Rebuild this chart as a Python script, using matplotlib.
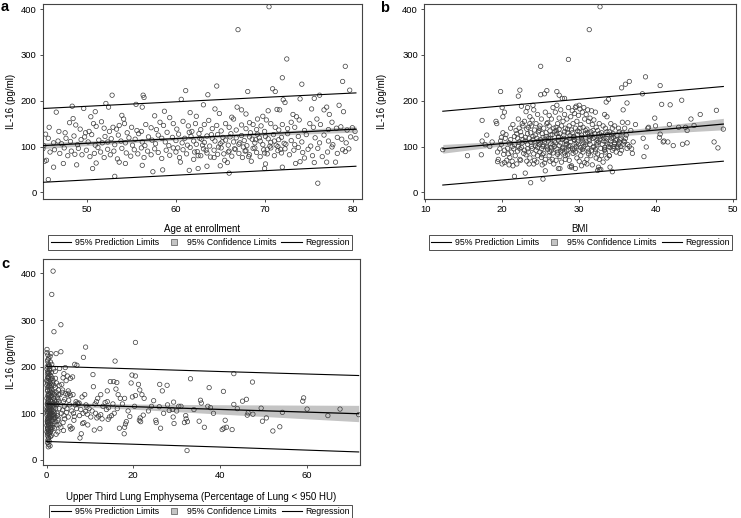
import numpy as np
import matplotlib
matplotlib.use('Agg')
import matplotlib.pyplot as plt
from matplotlib.lines import Line2D

plt.rcParams['font.family'] = ['Liberation Sans', 'DejaVu Sans']

# ---- panel a: IL-16 vs age ----
age = [46.5, 48.3, 49.6, 50.4, 50.9, 52.1, 52.4, 52.8, 53.9, 54.1,
       55.5, 56.3, 56.4, 56.2, 57.6, 58.7, 59.3, 60.6, 61.1, 61.6,
       62.3, 63.1, 63.6, 64.6, 64.4, 64.9, 66.3, 66.9, 67.4, 67.9,
       68.1, 69.2, 69.8, 70.4, 70.9, 71.2, 71.4, 71.7, 72.1, 72.3,
       72.5, 72.0, 73.2, 73.6, 74.0, 74.2, 75.3, 75.6, 75.9, 76.2,
       76.7, 77.0, 77.3, 78.4, 78.8, 78.9, 79.1, 79.6, 67.0, 70.5,
       45.3, 45.7, 46.8, 47.5, 48.0, 48.4, 48.7, 49.2, 49.8, 50.2,
       50.7, 51.0, 51.6, 51.9, 52.5, 52.9, 53.3, 53.6, 54.2, 54.5,
       55.0, 55.6, 56.1, 56.6, 57.2, 57.8, 58.2, 58.6, 59.0, 59.7,
       60.1, 60.8, 61.4, 61.8, 62.2, 62.8, 63.2, 63.7, 64.1, 64.6,
       65.1, 65.6, 66.0, 66.5, 66.8, 67.4, 67.9, 68.3, 68.7, 69.1,
       69.6, 70.0, 70.2, 70.7, 71.2, 71.6, 72.0, 72.6, 73.0, 73.4,
       73.9, 74.5, 75.1, 75.5, 76.3, 77.2, 77.6, 78.1, 78.6, 79.3,
       79.9, 80.2,
       45.1, 45.6, 46.2, 46.7, 47.1, 47.6, 48.1, 48.5, 48.9, 49.3,
       49.7, 50.1, 50.5, 50.9, 51.3, 51.7, 52.0, 52.3, 52.7, 53.1,
       53.5, 53.8, 54.3, 54.7, 55.1, 55.4, 55.8, 56.2, 56.5, 56.9,
       57.3, 57.7, 58.0, 58.4, 58.8, 59.2, 59.6, 60.0, 60.3, 60.7,
       61.0, 61.3, 61.7, 62.0, 62.3, 62.6, 62.9, 63.2, 63.5, 63.8,
       64.1, 64.4, 64.7, 65.0, 65.3, 65.6, 65.9, 66.2, 66.5, 66.8,
       67.1, 67.4, 67.7, 68.0, 68.3, 68.6, 68.9, 69.2, 69.5, 69.8,
       70.1, 70.4, 70.7, 71.0, 71.3, 71.6, 71.9, 72.2, 72.6, 73.0,
       73.4, 73.8, 74.2, 74.7, 75.2, 75.7, 76.2, 76.7, 77.2, 77.7,
       78.2, 78.7, 79.2, 79.7, 80.3,
       60.2, 61.5, 62.1, 62.7, 63.4, 64.0, 64.8, 65.4, 66.1, 66.6,
       67.2, 67.8, 68.4, 68.9, 69.4, 70.0, 70.6, 71.1, 71.8, 72.4,
       62.5, 63.0, 64.3, 65.2, 66.0, 67.6, 68.2, 69.0, 70.3, 71.5,
       45.0, 45.4, 45.2, 45.8, 46.3, 46.9, 47.4, 47.8, 48.2, 48.6,
       49.0, 49.4, 49.9, 50.3, 50.8, 51.2, 51.5, 51.9, 52.3, 52.6,
       53.0, 53.4, 53.9, 54.4, 54.9, 55.3, 55.7, 56.1, 56.4, 56.8,
       57.2, 57.6, 58.0, 58.4, 58.9, 59.3, 59.7, 60.0, 60.4, 60.8,
       61.2, 61.6, 62.0, 62.4, 62.8, 63.1, 63.5, 63.9, 64.3, 64.7,
       65.1, 65.5, 65.9, 66.3, 66.7, 67.1, 67.5, 67.9, 68.3, 68.7,
       69.1, 69.5, 69.9, 70.3, 70.7, 71.1, 71.5, 71.9, 72.3, 72.8,
       73.3, 73.8, 74.3, 74.9, 75.4, 76.0, 76.5, 77.1, 77.6, 78.2,
       78.8, 79.1, 79.5,
       45.6, 46.2, 47.3, 48.8, 50.6, 51.0, 53.1, 53.6, 54.3, 56.2,
       57.4, 58.5, 60.5, 61.5, 62.5, 63.5, 65.0, 66.0, 65.8, 68.5,
       70.0, 70.1, 72.0, 73.5, 74.0, 74.5, 75.6, 76.0, 77.0, 78.0]
il16_a = [175, 188, 183, 165, 176, 194, 186, 212, 168, 160,
          192, 212, 207, 186, 167, 177, 163, 203, 222, 174,
          166, 191, 213, 232, 182, 172, 164, 186, 180, 171,
          220, 160, 166, 178, 226, 220, 181, 180, 202, 196,
          291, 250, 170, 165, 204, 236, 182, 205, 160, 212,
          180, 186, 170, 190, 242, 176, 275, 223, 355, 405,
          127, 142, 133, 130, 152, 161, 147, 138, 130, 133,
          150, 144, 154, 140, 133, 142, 138, 146, 150, 130,
          142, 135, 133, 148, 141, 137, 153, 146, 131, 150,
          138, 155, 145, 133, 150, 137, 148, 157, 139, 146,
          134, 150, 142, 160, 136, 147, 139, 152, 148, 137,
          145, 133, 158, 150, 142, 136, 148, 139, 153, 142,
          158, 135, 150, 142, 148, 137, 153, 140, 143, 136,
          141, 133,
          102, 118, 108, 112, 106, 118, 111, 123, 104, 115,
          121, 110, 126, 103, 114, 108, 122, 110, 117, 104,
          125, 112, 108, 119, 103, 116, 128, 110, 102, 121,
          114, 106, 125, 118, 110, 102, 120, 113, 127, 108,
          118, 103, 122, 112, 105, 128, 116, 109, 123, 101,
          118, 112, 126, 106, 120, 114, 103, 128, 110, 119,
          105, 124, 113, 102, 121, 116, 108, 127, 112, 104,
          122, 117, 109, 126, 103, 115, 120, 107, 128, 113,
          104, 122, 110, 126, 101, 119, 108, 125, 112, 104,
          120, 116, 108, 121, 118,
          97, 131, 88, 118, 92, 126, 99, 84, 121, 95,
          108, 90, 130, 97, 119, 86, 101, 112, 94, 105,
          80, 103, 76, 110, 90, 99, 78, 115, 94, 100,
          95, 70, 68, 88, 93, 85, 97, 80, 90, 83,
          96, 82, 92, 78, 85, 98, 88, 76, 94, 82,
          90, 73, 96, 86, 79, 93, 84, 97, 76, 90,
          82, 95, 87, 74, 92, 81, 97, 88, 76, 93,
          84, 98, 72, 89, 80, 95, 86, 77, 92, 83,
          97, 70, 88, 79, 94, 85, 76, 91, 82, 96,
          87, 78, 93, 84, 97, 80, 91, 86, 95, 82,
          92, 98, 87, 94, 80, 96, 78, 88, 99, 85,
          93, 89, 95,
          28, 55, 63, 60, 52, 64, 35, 66, 63, 59,
          45, 49, 66, 48, 52, 57, 58, 42, 65, 68,
          52, 62, 55, 63, 67, 75, 65, 20, 66, 66]

# fitted lines
fit_x_a = [45, 53.75, 62.5, 71.25, 80.3]
reg_a = [102, 111, 120, 129, 138]
ci_lo_a = [95.5, 107, 117, 125, 131.5]
ci_hi_a = [108.5, 115, 123, 133, 144.5]
pred_lo_a = [22, 31, 40, 48.5, 57]
pred_hi_a = [183, 191.5, 200, 208.5, 217]

# ---- panel b: IL-16 vs BMI ----
bmi = [12.3, 15.5, 17.3, 17.4, 17.4, 17.8, 18.0, 18.4, 18.7, 19.2,
       19.3, 19.4, 19.8, 20.0, 20.3, 20.1, 21.6, 22.3, 22.1, 22.5,
       23.3, 23.0, 23.7, 24.0, 25.0, 25.0, 25.5, 25.8, 25.3, 25.6,
       27.1, 27.4, 27.8, 28.1, 28.6, 31.3, 32.7, 30.0, 29.5, 33.5,
       33.8, 35.5, 36.0, 36.5, 36.2, 35.7, 38.2, 38.6, 40.5, 40.7,
       41.8, 43.3, 44.5, 45.7, 47.8, 47.5, 48.0, 48.7, 44.0, 43.4,
       42.2, 41.5, 41.0, 40.9, 40.5, 40.4, 39.8, 39.9, 39.0, 38.9,
       38.3, 38.4, 38.7, 41.7, 42.9, 43.8, 44.0, 44.9, 37.3, 37.0,
       36.5, 36.8, 36.9, 36.7, 36.3, 35.6, 35.9, 35.3, 34.9, 34.6,
       34.3, 34.0, 33.9, 33.3, 32.6, 32.4, 31.0, 30.3, 27.3, 28.8,
       19.4, 19.7, 19.5, 19.9,
       20.1, 19.9, 20.2, 20.0, 20.3, 19.8,
       20.6, 20.4, 20.7, 20.5, 20.8, 20.3,
       21.1, 20.9, 21.2, 21.0, 21.3, 20.9, 21.1,
       21.4, 21.6, 21.5, 21.7, 21.3, 21.6, 21.8, 21.4,
       22.1, 21.9, 22.2, 22.0, 22.3, 21.9, 22.1, 22.2, 22.0,
       22.6, 22.4, 22.7, 22.5, 22.8, 22.4, 22.6, 22.5, 22.7, 22.3,
       23.1, 22.9, 23.2, 23.0, 23.3, 22.9, 23.1, 23.2, 23.0, 23.3,
       23.6, 23.4, 23.7, 23.5, 23.8, 23.4, 23.6, 23.5, 23.7, 23.3, 23.6,
       24.1, 23.9, 24.2, 24.0, 24.3, 23.9, 24.1, 24.2, 24.0, 24.3, 23.8, 24.1,
       24.6, 24.4, 24.7, 24.5, 24.8, 24.4, 24.6, 24.5, 24.7, 24.3, 24.6, 24.8,
       25.1, 24.9, 25.2, 25.0, 25.3, 24.9, 25.1, 25.2, 25.0, 25.3, 24.8, 25.1, 25.2,
       25.6, 25.4, 25.7, 25.5, 25.8, 25.4, 25.6, 25.5, 25.7, 25.3, 25.6, 25.8,
       26.1, 25.9, 26.2, 26.0, 26.3, 25.9, 26.1, 26.2, 26.0, 26.3, 25.8, 26.1, 26.2,
       26.6, 26.4, 26.7, 26.5, 26.8, 26.4, 26.6, 26.5, 26.7, 26.3, 26.6, 26.8, 26.4,
       27.1, 26.9, 27.2, 27.0, 27.3, 26.9, 27.1, 27.2, 27.0, 27.3, 26.8, 27.1, 27.2, 27.0,
       27.6, 27.4, 27.7, 27.5, 27.8, 27.4, 27.6, 27.5, 27.7, 27.3, 27.6, 27.8, 27.4, 27.5,
       28.1, 27.9, 28.2, 28.0, 28.3, 27.9, 28.1, 28.2, 28.0, 28.3, 27.8, 28.1, 28.2,
       28.6, 28.4, 28.7, 28.5, 28.8, 28.4, 28.6, 28.5, 28.7, 28.3, 28.6, 28.8, 28.4, 28.5,
       29.1, 28.9, 29.2, 29.0, 29.3, 28.9, 29.1, 29.2, 29.0, 29.3, 28.8, 29.1, 29.2, 29.0,
       29.6, 29.4, 29.7, 29.5, 29.8, 29.4, 29.6, 29.5, 29.7, 29.3, 29.6, 29.8, 29.4, 29.5,
       30.1, 29.9, 30.2, 30.0, 30.3, 29.9, 30.1, 30.2, 30.0, 30.3, 29.8, 30.1, 30.2,
       30.6, 30.4, 30.7, 30.5, 30.8, 30.4, 30.6, 30.5, 30.7, 30.3, 30.6, 30.8, 30.4,
       31.1, 30.9, 31.2, 31.0, 31.3, 30.9, 31.1, 31.2, 31.0, 31.3, 30.8, 31.1, 31.2,
       31.6, 31.4, 31.7, 31.5, 31.8, 31.4, 31.6, 31.5, 31.7, 31.3, 31.6, 31.8,
       32.1, 31.9, 32.2, 32.0, 32.3, 31.9, 32.1, 32.2, 32.0, 32.3, 31.8, 32.1,
       32.6, 32.4, 32.7, 32.5, 32.8, 32.4, 32.6, 32.5, 32.7, 32.3, 32.6,
       33.1, 32.9, 33.2, 33.0, 33.3, 32.9, 33.1, 33.2, 33.0, 33.3, 32.8,
       33.6, 33.4, 33.7, 33.5, 33.8, 33.4, 33.6, 33.5, 33.7, 33.3, 33.6,
       34.1, 33.9, 34.2, 34.0, 34.3, 33.9, 34.1, 34.2, 34.0, 34.3,
       34.6, 34.4, 34.7, 34.5, 34.8, 34.4, 34.6, 34.5,
       35.1, 34.9, 35.2, 35.0, 35.3, 34.9, 35.1, 35.2,
       35.6, 35.4, 35.7, 35.5, 35.8, 35.4,
       36.1, 35.9, 36.2, 36.0, 36.3]
il16_b = [93, 80, 82, 112, 157, 104, 125, 100, 110, 155,
          150, 67, 220, 185, 175, 165, 35, 223, 210, 188,
          185, 42, 21, 190, 275, 213, 215, 222, 29, 47,
          220, 212, 205, 205, 290, 355, 405, 190, 185, 197,
          203, 228, 236, 242, 195, 180, 215, 252, 233, 192,
          191, 201, 160, 170, 179, 110, 97, 138, 108, 105,
          102, 110, 112, 110, 127, 120, 162, 145, 142, 140,
          118, 78, 99, 148, 142, 142, 135, 146, 148, 110,
          100, 95, 85, 135, 152, 153, 140, 115, 100, 105,
          45, 55, 80, 170, 50, 48, 62, 58, 52, 56,
          88, 95, 72, 120,
          130, 105, 83, 62, 92, 112,
          70, 118, 96, 126, 84, 65,
          140, 108, 88, 76, 100, 60, 115,
          148, 122, 95, 80, 68, 104, 135, 58,
          160, 128, 110, 90, 72, 62, 100, 140, 118,
          150, 132, 115, 98, 85, 70, 108, 124, 145, 95,
          176, 155, 138, 120, 105, 92, 82, 68, 112, 128,
          165, 142, 130, 118, 100, 88, 75, 62, 110, 95, 150,
          180, 158, 136, 122, 108, 96, 84, 70, 115, 102, 145, 62,
          170, 150, 132, 118, 104, 92, 80, 66, 112, 125, 98, 140,
          160, 145, 128, 115, 100, 88, 76, 60, 108, 120, 135, 95, 82,
          175, 140, 122, 110, 97, 85, 72, 64, 130, 104, 116, 150,
          168, 152, 134, 118, 106, 94, 80, 68, 112, 125, 100, 145, 88,
          185, 160, 140, 126, 112, 98, 86, 72, 62, 118, 104, 132, 92,
          190, 175, 150, 135, 120, 108, 95, 83, 70, 114, 100, 128, 88, 142,
          180, 162, 145, 128, 115, 102, 90, 78, 66, 122, 108, 96, 138, 52,
          170, 155, 140, 125, 112, 98, 86, 72, 118, 104, 92, 132, 80,
          185, 160, 145, 130, 118, 106, 94, 82, 70, 112, 100, 124, 90, 138,
          178, 165, 150, 136, 122, 110, 96, 85, 58, 116, 102, 130, 92, 55,
          188, 172, 155, 140, 126, 114, 100, 88, 75, 120, 106, 134, 95, 52,
          182, 168, 148, 132, 118, 105, 92, 80, 68, 125, 110, 140, 98,
          185, 175, 160, 142, 128, 114, 100, 88, 65, 120, 108, 135, 94,
          180, 170, 155, 138, 122, 110, 96, 84, 72, 116, 104, 130, 90,
          178, 162, 148, 132, 118, 105, 92, 80, 60, 112, 125, 98,
          175, 158, 142, 128, 114, 100, 88, 75, 120, 108, 135, 94,
          150, 135, 122, 110, 96, 84, 72, 55, 116, 104, 128,
          145, 130, 118, 105, 92, 80, 66, 112, 124, 98, 50,
          165, 140, 126, 112, 100, 88, 75, 118, 106, 94, 132,
          150, 132, 118, 105, 92, 80, 112, 125, 98, 140,
          145, 128, 114, 100, 88, 120, 108, 96,
          140, 125, 110, 98, 85, 115, 104, 132,
          130, 118, 105, 92, 112, 100,
          125, 110, 96, 118, 104]

fit_x_b = [12.3, 20, 27.5, 38, 48.7]
reg_b = [95, 106.5, 117.5, 133, 149]
ci_lo_b = [85.5, 101.5, 114, 126.5, 136.5]
ci_hi_b = [104.5, 111.5, 121, 139.5, 161.5]
pred_lo_b = [16, 27, 38, 53, 68]
pred_hi_b = [177, 188.5, 199.5, 215, 231]

# ---- panel c: IL-16 vs upper third lung emphysema ----
emph = [10.7, 19.7, 20.5, 33.2, 43.2, 47.5, 14.7, 15.5, 16.2, 19.5,
        21.2, 26.1, 27.8, 37.5, 21.5, 16.0, 16.5, 10.8, 14.0, 22.0,
        20.5, 19.8, 24.7, 12.5, 11.8, 17.0, 18.0, 22.5, 26.7, 29.3,
        31.0, 35.5, 35.7, 37.8, 37.2, 40.8, 43.2, 45.2, 46.1, 49.5,
        59.3, 59.1, 60.1, 67.7, 64.9, 72.0, 54.4, 50.7, 49.8, 46.5,
        46.3, 47.6, 41.2, 41.5, 40.5, 40.9, 42.8, 52.2, 53.8, 36.4,
        35.2, 32.5, 32.2, 32.1, 31.8, 32.4, 30.5, 27.9, 28.3, 29.0,
        29.2, 29.4, 26.0, 25.2, 25.3, 26.3, 22.3, 21.4, 21.7, 21.6,
        20.3, 19.2, 18.4, 18.2, 17.9, 18.0, 16.8, 16.3, 15.6, 15.3,
        14.0, 14.3, 14.5, 14.2, 13.0, 12.5, 12.0, 11.6, 11.5, 11.2,
        11.0, 12.3, 13.8, 9.8, 9.3, 9.0, 9.4, 10.2, 9.5, 8.6,
        8.3, 7.7, 8.0, 7.1, 7.5, 6.9, 6.2, 5.9, 5.4, 5.6,
        8.2, 8.8, 6.0, 5.5, 4.8, 4.5, 4.0, 3.8, 3.5, 5.0,
        5.5, 4.2, 4.8, 6.8, 5.3, 4.1, 3.7, 6.4, 5.0, 4.2,
        3.8, 3.3, 2.9, 3.9, 2.6, 2.2, 20.5, 9.0, 8.5, 15.8,
        6.5, 7.0, 4.3, 3.0, 3.3, 2.2, 1.5, 3.3, 1.7, 1.2,
        3.6, 4.4, 5.2, 6.1, 7.3, 3.9, 4.7, 5.8, 6.6, 7.9,
        3.4, 4.0, 4.6, 5.1, 6.3, 7.6, 8.4, 9.1, 3.1, 3.7,
        10.5, 11.3, 12.8, 13.5, 15.0, 17.5, 18.8, 23.5, 24.2, 27.0,
        30.0, 34.0, 38.5, 44.0,
        0.1, 0.3, 0.5, 0.2, 0.8, 0.4, 0.6, 0.1, 0.9, 0.3,
        0.2, 0.7, 0.5, 1.1, 0.4, 0.3, 0.8, 1.3, 0.6, 0.2,
        0.1, 0.5, 0.9, 0.3, 1.4, 0.7, 0.2, 1.0, 0.4, 1.7,
        0.6, 0.3, 1.2, 0.8, 0.1, 1.5, 0.5, 0.9, 2.0, 0.4,
        1.1, 0.2, 0.7, 1.6, 0.3, 1.3, 0.6, 2.2, 0.1, 0.9,
        0.4, 1.8, 0.2, 0.8, 1.4, 0.5, 2.5, 0.3, 1.0, 0.7,
        0.1, 1.2, 0.6, 1.9, 0.4, 0.9, 0.2, 1.5, 2.8, 0.3,
        0.7, 1.1, 0.5, 2.1, 0.2, 0.8, 1.6, 0.4, 1.3, 0.1,
        0.6, 2.4, 0.3, 1.0, 0.9, 0.2, 1.7, 0.5, 0.4, 1.2,
        0.1, 0.7, 2.0, 0.3, 0.6, 1.4, 0.2, 0.9, 0.5, 0.4,
        0.3, 0.6, 0.2, 0.5, 0.8, 1.1, 0.4, 0.9, 1.8, 2.6,
        1.0, 1.5, 2.3, 2.7, 1.9, 2.2, 2.9, 1.6, 2.5, 2.8,
        0.15, 0.45, 0.85, 0.25, 1.05, 0.65, 1.25, 0.35, 0.75, 1.45,
        0.55, 1.35, 0.15, 0.95, 2.15, 0.45, 1.65, 0.25, 1.85, 0.85,
        0.35, 1.15, 0.65, 2.45, 0.05, 1.55, 0.75, 2.65, 0.55, 1.95,
        0.45, 0.25, 1.05, 0.85, 0.15, 1.25, 0.65, 2.35, 0.35, 1.75,
        0.95, 0.05, 1.45, 0.55, 2.75, 0.15, 1.15, 0.75, 2.05, 0.25,
        1.0, 0.3, 0.6, 2.0, 1.2, 0.1, 0.4, 1.6, 0.8, 2.9]
il16_c = [183, 182, 180, 174, 185, 167, 168, 168, 166, 165,
          162, 162, 160, 155, 150, 152, 140, 157, 148, 140,
          138, 135, 127, 140, 132, 132, 132, 132, 148, 124,
          115, 128, 122, 112, 115, 147, 119, 126, 130, 111,
          133, 126, 109, 109, 95, 97, 102, 90, 83, 101,
          96, 98, 85, 70, 65, 68, 65, 62, 71, 70,
          83, 82, 88, 95, 80, 20, 115, 118, 106, 108,
          92, 78, 114, 85, 80, 68, 96, 85, 82, 90,
          115, 93, 82, 77, 56, 70, 68, 110, 100, 120,
          125, 112, 92, 87, 115, 97, 94, 90, 125, 120,
          64, 67, 108, 110, 113, 104, 98, 92, 75, 80,
          78, 47, 56, 122, 122, 110, 100, 68, 72, 66,
          135, 140, 178, 175, 180, 170, 185, 176, 162, 148,
          138, 130, 140, 125, 118, 115, 107, 93, 92, 88,
          80, 70, 75, 63, 60, 55, 252, 242, 220, 212,
          205, 203, 198, 196, 232, 228, 405, 290, 275, 355,
          145, 142, 143, 140, 120, 125, 110, 105, 118, 108,
          100, 95, 102, 128, 85, 95, 100, 118, 140, 150,
          105, 100, 88, 123, 95, 120, 105, 105, 115, 100,
          105, 108, 100, 110,
          237, 225, 218, 212, 222, 205, 200, 195, 210, 190,
          185, 192, 180, 188, 176, 170, 182, 175, 168, 165,
          160, 158, 172, 155, 165, 150, 148, 145, 142, 160,
          140, 138, 150, 135, 132, 142, 130, 128, 155, 125,
          138, 122, 120, 132, 118, 125, 115, 145, 112, 113,
          110, 128, 108, 106, 118, 104, 135, 102, 100, 98,
          96, 108, 94, 120, 92, 90, 88, 98, 125, 86,
          84, 95, 82, 110, 80, 78, 88, 76, 82, 74,
          72, 100, 70, 75, 68, 66, 78, 64, 62, 65,
          60, 58, 90, 56, 54, 70, 52, 50, 48, 45,
          42, 40, 37, 33, 30, 52, 28, 62, 68, 85,
          180, 170, 165, 150, 140, 125, 110, 105, 95, 88,
          120, 135, 145, 150, 125, 160, 130, 175, 105, 115,
          140, 95, 100, 118, 118, 88, 112, 80, 100, 92,
          128, 102, 108, 120, 105, 92, 96, 130, 114, 82,
          76, 68, 70, 60, 83, 85, 90, 75, 58, 95,
          155, 170, 145, 185, 140, 200, 160, 195, 175, 178,
          228, 215, 202, 190, 205, 230, 188, 195, 165, 160]

fit_x_c = [0, 6, 20, 40, 72]
reg_c = [120, 118.3, 114.2, 108.3, 99]
ci_lo_c = [115, 114.3, 108.7, 98.3, 82]
ci_hi_c = [125, 122.3, 119.7, 118.3, 117]
pred_lo_c = [39.5, 37.6, 33.6, 27.6, 17]
pred_hi_c = [201, 199.3, 195.4, 189.6, 181]


def draw_panel(ax, x, y, fx, reg, lo, hi, plo, phi, xlim, ylim, xticks, xlabel):
    ax.fill_between(fx, lo, hi, color='#c4c4c4', lw=0, zorder=1)
    ax.scatter(x, y, s=10, facecolors='none', edgecolors='#3a3a3a',
               linewidths=0.5, zorder=2)
    ax.plot(fx, plo, color='black', lw=0.8, zorder=3)
    ax.plot(fx, phi, color='black', lw=0.8, zorder=3)
    ax.plot(fx, reg, color='black', lw=0.9, zorder=3)
    ax.set_xlim(*xlim)
    ax.set_ylim(*ylim)
    ax.set_xticks(xticks)
    ax.set_yticks([0, 100, 200, 300, 400])
    ax.tick_params(labelsize=6.8, length=2.5, width=0.6, pad=2, color='#333333')
    for sp in ax.spines.values():
        sp.set_color('#444444')
        sp.set_linewidth(0.8)
    ax.set_xlabel(xlabel, fontsize=7)
    ax.set_ylabel('IL-16 (pg/ml)', fontsize=7)


def add_legend(fig, ax, center):
    handles = [Line2D([], [], color='black', lw=0.8),
               Line2D([], [], marker='s', ls='none', markersize=3.8,
                      markerfacecolor='#c4c4c4', markeredgecolor='#555555',
                      markeredgewidth=0.5),
               Line2D([], [], color='black', lw=0.8)]
    labels = ['95% Prediction Limits', '95% Confidence Limits', 'Regression']
    leg = ax.legend(handles, labels, loc='center', bbox_to_anchor=center,
                    bbox_transform=fig.transFigure, ncol=3,
                    fontsize=6.3, frameon=True, fancybox=False,
                    borderpad=0.3, handlelength=2.3, handletextpad=0.4,
                    columnspacing=0.55, borderaxespad=0)
    leg.get_frame().set_edgecolor('black')
    leg.get_frame().set_linewidth(0.6)


fig = plt.figure(figsize=(7.41, 5.18), dpi=100)

ax_a = fig.add_axes([0.0576, 0.6158, 0.4305, 0.3774])
draw_panel(ax_a, age, il16_a, fit_x_a, reg_a, ci_lo_a, ci_hi_a,
           pred_lo_a, pred_hi_a, (44.97, 80.95), (-14.5, 412),
           [50, 60, 70, 80], 'Age at enrollment')
ax_a.yaxis.set_label_coords(-0.084, 0.5)
ax_a.xaxis.set_label_coords(0.5, -0.128)
add_legend(fig, ax_a, (0.2703, 0.5319))

ax_b = fig.add_axes([0.5726, 0.6158, 0.4202, 0.3774])
draw_panel(ax_b, bmi, il16_b, fit_x_b, reg_b, ci_lo_b, ci_hi_b,
           pred_lo_b, pred_hi_b, (9.9, 50.3), (-14.5, 412),
           [10, 20, 30, 40, 50], 'BMI')
ax_b.yaxis.set_label_coords(-0.12, 0.5)
ax_b.xaxis.set_label_coords(0.5, -0.128)
add_legend(fig, ax_b, (0.7834, 0.5319))

ax_c = fig.add_axes([0.0576, 0.1023, 0.4282, 0.3986])
draw_panel(ax_c, emph, il16_c, fit_x_c, reg_c, ci_lo_c, ci_hi_c,
           pred_lo_c, pred_hi_c, (-0.9, 72.3), (-11, 432),
           [0, 20, 40, 60],
           'Upper Third Lung Emphysema (Percentage of Lung < 950 HU)')
ax_c.yaxis.set_label_coords(-0.085, 0.5)
ax_c.xaxis.set_label_coords(0.5, -0.129)
add_legend(fig, ax_c, (0.2706, 0.0116))

for letter, fx, fy in [('a', 5, 7), ('b', 385, 8), ('c', 5.5, 263.5)]:
    fig.text(fx / 741, 1 - fy / 518, letter, fontsize=10.5, fontweight='bold',
             ha='center', va='center')

fig.savefig('out.png', dpi=100)
